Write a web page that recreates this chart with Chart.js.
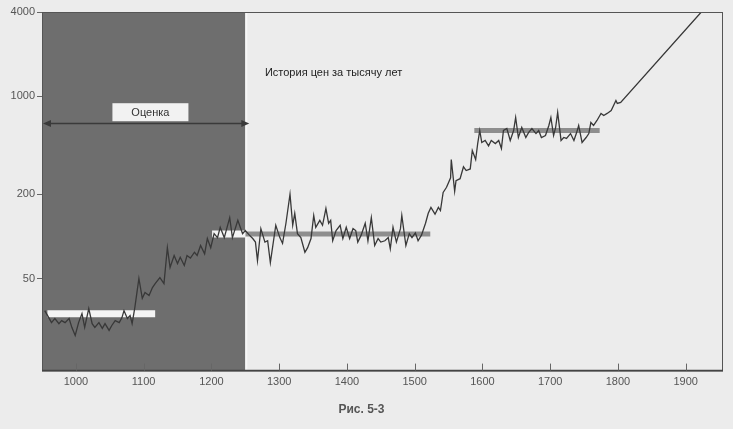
<!DOCTYPE html>
<html lang="ru">
<head>
<meta charset="UTF-8" />
<title>История цен за тысячу лет</title>
<script src="https://cdn.jsdelivr.net/npm/chart.js@4"></script>
<style>
  html, body { margin: 0; padding: 0; background: #ececec; }
  #wrap { width: 733px; height: 429px; position: relative; }
</style>
</head>
<body>
<div id="wrap"><canvas id="chart"></canvas></div>
<script>
// Price index (log scale).
const years = [
  954, 960, 964, 969, 975, 979, 984, 990, 994, 999,
  1004, 1009, 1013, 1019, 1024, 1028, 1034, 1039, 1043, 1049,
  1053, 1058, 1064, 1068, 1071, 1076, 1080, 1083, 1087, 1093,
  1098, 1102, 1108, 1113, 1117, 1124, 1130, 1135, 1139, 1145,
  1150, 1154, 1160, 1164, 1169, 1175, 1179, 1184, 1190, 1194,
  1199, 1204, 1209, 1213, 1219, 1227, 1231, 1239, 1246, 1250,
  1256, 1261, 1265, 1268, 1273, 1279, 1283, 1287, 1295, 1301,
  1305, 1310, 1316, 1320, 1323, 1327, 1332, 1338, 1342, 1347,
  1351, 1354, 1360, 1364, 1369, 1373, 1376, 1379, 1384, 1390,
  1394, 1399, 1404, 1409, 1413, 1416, 1421, 1427, 1431, 1436,
  1441, 1446, 1450, 1456, 1461, 1464, 1468, 1473, 1479, 1481,
  1487, 1492, 1496, 1501, 1505, 1510, 1516, 1520, 1524, 1530,
  1535, 1538, 1542, 1547, 1553, 1554, 1559, 1561, 1567, 1572,
  1576, 1582, 1585, 1590, 1593, 1596, 1599, 1604, 1609, 1613,
  1619, 1624, 1628, 1631, 1636, 1641, 1646, 1649, 1653, 1658,
  1664, 1668, 1673, 1679, 1683, 1687, 1693, 1698, 1701, 1705,
  1708, 1711, 1716, 1720, 1724, 1730, 1735, 1739, 1742, 1747,
  1753, 1757, 1760, 1764, 1769, 1775, 1779, 1784, 1790, 1797,
  1799, 1804, 1923,
];
const prices = [
  29.5, 26.3, 24.2, 25.9, 23.8, 25, 24.2, 25.9, 22.4, 19.6,
  24.2, 28.1, 22.4, 30.5, 23.8, 22.4, 24.2, 22, 23.8, 21.3,
  23.1, 25, 24.2, 26.3, 29.5, 25.9, 27.2, 23.8, 31, 50,
  36.1, 39.7, 37.8, 43.1, 46, 50.8, 46, 83, 60, 73,
  64, 71, 62, 73, 70, 77, 73, 86, 75, 96.5,
  83, 104.5, 98, 116, 98, 136, 98, 130, 104.5, 110,
  102, 96.5, 91, 67, 113.5, 91, 93, 65, 120, 98,
  89, 124, 200, 120, 146, 104.5, 98, 77, 83, 96.5,
  141, 116, 130, 120, 158, 124, 130, 93, 110, 120,
  96.5, 116, 96.5, 113.5, 110, 91, 102, 124, 93, 136,
  86, 96.5, 91, 93, 98, 81.5, 116, 91, 113.5, 141,
  86, 104.5, 98, 106, 93, 102, 124, 146, 161, 144,
  161, 153, 206, 224, 262, 354, 210, 250, 258, 314,
  295, 303, 410, 354, 460, 570, 468, 484, 443, 484,
  460, 484, 424, 570, 589, 484, 570, 706, 508, 599,
  508, 551, 589, 542, 570, 508, 525, 619, 706, 525,
  599, 767, 484, 508, 500, 542, 484, 551, 619, 468,
  508, 542, 650, 619, 672, 755, 730, 755, 792, 934,
  890, 905, 4000,
];

// Average price levels (horizontal bands).
const levelStarts = [958, 1201, 1250, 1588];
const levelEnds = [1117, 1250, 1523, 1773];
const levelValues = [28, 104, 104, 570];

const xTicks = [1000, 1100, 1200, 1300, 1400, 1500, 1600, 1700, 1800, 1900];
const yTicks = [50, 200, 1000, 4000];

// Estimated period and annotation texts.
const estimateFrom = 950;
const estimateTo = 1250;
const estimateLabel = 'Оценка';
const arrowLevel = 650;
const labelBoxLevel = 770;
const labelBoxYear = 1110;
const historyLabel = 'История цен за тысячу лет';
const historyYear = 1279;
const historyLevel = 1480;
const caption = 'Рис. 5-3';

const FONT = '"Liberation Sans", Arial, sans-serif';

const levelSets = levelStarts.map((from, i) => {
  const inShade = levelEnds[i] <= estimateTo;
  return {
    data: [{ x: from, y: levelValues[i] }, { x: levelEnds[i], y: levelValues[i] }],
    borderColor: inShade ? '#f4f4f4' : '#8e8e8e',
    borderWidth: inShade ? 7 : 5,
    borderCapStyle: 'butt',
    pointRadius: 0,
    order: 2,
  };
});

// Dark band for the estimated part, frame, inner x ticks, arrow and labels.
const decor = {
  id: 'decor',
  beforeDatasetsDraw(c) {
    const { ctx, chartArea: a, scales: { x } } = c;
    const x0 = x.getPixelForValue(estimateFrom);
    const x1 = x.getPixelForValue(estimateTo);
    ctx.save();
    ctx.fillStyle = '#6e6e6e';
    ctx.fillRect(x0, a.top, x1 - x0, a.bottom - a.top);
    ctx.fillStyle = '#f7f7f7';
    ctx.fillRect(x1, a.top, 2, a.bottom - a.top);
    ctx.restore();
  },
  afterDatasetsDraw(c) {
    const { ctx, chartArea: a, scales: { x, y } } = c;
    ctx.save();
    ctx.strokeStyle = '#555';
    ctx.lineWidth = 1;
    ctx.strokeRect(a.left + 0.5, a.top + 0.5, a.right - a.left - 1, a.bottom - a.top);
    ctx.strokeStyle = '#444';
    ctx.lineWidth = 1.5;
    ctx.beginPath();
    ctx.moveTo(a.left, a.bottom);
    ctx.lineTo(a.right, a.bottom);
    ctx.stroke();
    ctx.strokeStyle = '#666';
    ctx.lineWidth = 1;
    xTicks.forEach((t) => {
      const px = Math.round(x.getPixelForValue(t)) + 0.5;
      ctx.beginPath();
      ctx.moveTo(px, a.bottom);
      ctx.lineTo(px, a.bottom - 7);
      ctx.stroke();
    });

    // double arrow across the estimated period
    const ay = Math.round(y.getPixelForValue(arrowLevel)) + 0.5;
    const ax0 = x.getPixelForValue(estimateFrom) + 1;
    const ax1 = x.getPixelForValue(estimateTo) + 4;
    ctx.strokeStyle = '#3a3a3a';
    ctx.fillStyle = '#3a3a3a';
    ctx.lineWidth = 1.5;
    ctx.beginPath();
    ctx.moveTo(ax0 + 4, ay);
    ctx.lineTo(ax1 - 4, ay);
    ctx.stroke();
    [[ax0, 1], [ax1, -1]].forEach(([px, d]) => {
      ctx.beginPath();
      ctx.moveTo(px, ay);
      ctx.lineTo(px + 8 * d, ay - 3.5);
      ctx.lineTo(px + 8 * d, ay + 3.5);
      ctx.closePath();
      ctx.fill();
    });

    // label box
    ctx.font = `11px ${FONT}`;
    ctx.textAlign = 'center';
    ctx.textBaseline = 'middle';
    const bx = x.getPixelForValue(labelBoxYear);
    const by = y.getPixelForValue(labelBoxLevel);
    ctx.fillStyle = '#f2f2f2';
    ctx.fillRect(bx - 38, by - 9, 76, 18);
    ctx.fillStyle = '#333';
    ctx.fillText(estimateLabel, bx, by + 1);

    ctx.textAlign = 'left';
    ctx.fillStyle = '#222';
    ctx.fillText(historyLabel, x.getPixelForValue(historyYear), y.getPixelForValue(historyLevel));
    ctx.restore();
  },
};

new Chart(document.getElementById('chart'), {
  type: 'line',
  data: {
    datasets: [
      {
        data: years.map((yr, i) => ({ x: yr, y: prices[i] })),
        borderColor: '#383838',
        borderWidth: 1.3,
        pointRadius: 0,
        tension: 0,
        order: 1,
      },
      ...levelSets,
    ],
  },
  options: {
    responsive: true,
    maintainAspectRatio: false,
    animation: false,
    layout: { padding: { top: 12, right: 10, left: 0, bottom: 4 } },
    scales: {
      x: {
        type: 'linear',
        min: 950,
        max: 1955,
        afterFit: (s) => { s.height = 22; },
        afterBuildTicks: (s) => { s.ticks = xTicks.map((v) => ({ value: v })); },
        grid: { display: false, drawTicks: false },
        border: { display: false },
        ticks: {
          padding: 5,
          color: '#555',
          font: { family: FONT, size: 11 },
          maxRotation: 0,
          callback: (v) => String(v),
        },
      },
      y: {
        type: 'logarithmic',
        min: 11,
        max: 4000,
        afterFit: (s) => { s.width = 42; },
        afterBuildTicks: (s) => { s.ticks = yTicks.map((v) => ({ value: v })); },
        grid: { drawOnChartArea: false, tickLength: 5, color: '#666' },
        border: { display: false },
        ticks: {
          padding: 2,
          color: '#555',
          font: { family: FONT, size: 11 },
          callback: (v) => String(v),
        },
      },
    },
    plugins: {
      legend: { display: false },
      tooltip: { enabled: false },
      title: {
        display: true,
        position: 'bottom',
        text: caption,
        color: '#555',
        font: { family: FONT, size: 12, weight: 'bold' },
        padding: { top: 10, bottom: 8 },
      },
    },
  },
  plugins: [decor],
});
</script>
</body>
</html>
